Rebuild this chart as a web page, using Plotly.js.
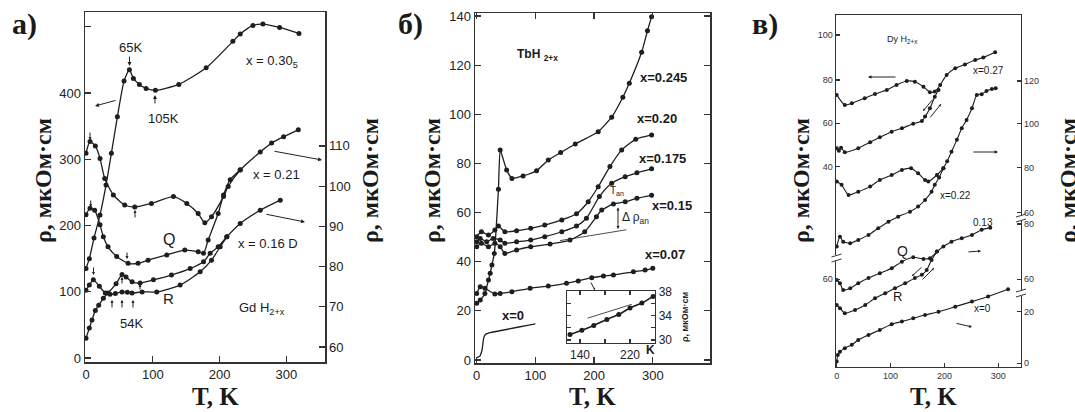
<!DOCTYPE html>
<html><head><meta charset="utf-8">
<script src="https://cdn.plot.ly/plotly-3.0.1.min.js"></script>
<style>html,body{margin:0;padding:0;background:#fff}#chart{width:1075px;height:412px}</style>
</head><body><div id="chart"></div>
<script>
// ---------- Panel a) GdH2+x ----------
const aT_305 = [0,5,12,21,30,38,47,57,65,71,80,90,104,139,180,220,231,250,265,290,319];
const aRho_305 = [135,150,181,216,261,309,364,418,435,422,413,407,404,413,438,478,489,502,504,499,490];
const aT_021 = [0,6,14,21,28,41,58,73,98,131,151,168,178,188,206,213,231,261,278,296,318];
const aRho_021 = [108.2,111.1,110.0,106.9,101.9,97.8,95.3,94.8,95.7,97.4,95.7,93.2,90.9,92.4,97.4,99.9,104.0,108.5,110.7,112.3,114.0];
const aT_Q = [0,6,13,21,26,33,46,63,78,93,121,148,168,176,183,198,206,216,231];
const aRho_Q = [92.9,94.5,94.0,90.4,87.4,84.9,82.5,80.8,80.8,81.6,82.9,84.1,83.7,83.3,86.6,93.2,97.8,101.6,104.1];
const aT_016 = [0,5,9,14,19,26,33,45,54,60,69,81,101,128,156,176,186,198,211,231,261,291];
const aRho_016 = [62.2,64.7,66.7,69.1,70.4,72.1,73.4,75.7,78.0,77.4,76.2,75.9,76.7,77.9,79.5,81.2,83.3,84.9,87.4,90.7,94.0,96.5];
const aT_R = [0,5,11,20,29,36,44,54,62,69,84,106,141,171,188,201,211];
const aRho_R = [74.1,75.4,76.7,75.1,73.4,73.1,73.3,73.7,73.6,73.4,73.7,73.7,75.4,78.7,81.6,84.9,87.4];
const aXticks = [0,100,200,300];
const aLeftTicks = [0,100,200,300,400,500];
const aLeftText = ['0','100','200','300','400',''];
const aRightTicks = [60,70,80,90,100,110];

// ---------- Panel б) TbH2+x ----------
const bT_245 = [0,6,14,20,23,26,30,37,40,51,60,79,102,122,143,168,207,230,249,260,281,291,298];
const bRho_245 = [23.1,24.4,27.1,32.6,35.3,38.7,43.4,69.5,85.5,77.3,73.9,74.9,77,81.4,84.4,87.9,92.9,98.8,106.9,112.6,125.2,134,139.7];
const bT_020 = [0,8,20,31,37,48,68,92,116,145,170,190,207,227,247,271,298];
const bRho_020 = [50.2,52.2,50.9,52.9,54.5,52.2,52.6,53.6,54.9,57,59.5,64.4,70.5,78.7,85.5,89.8,91.6];
const bT_0175 = [0,6,17,28,40,48,68,92,116,145,170,187,209,230,253,273,298];
const bRho_0175 = [48.1,49.5,48.1,49.5,48.8,47.5,48.1,48.8,50.2,52.2,54.5,57.7,66.5,71.9,74.6,76.2,77.8];
const bT_015 = [0,8,20,31,40,48,68,92,125,159,184,204,213,233,253,273,298];
const bRho_015 = [46.1,47.5,46.1,47.5,46.1,43.4,44.8,46.1,47.2,48.8,52.2,58.3,61,63.5,64.4,65.8,67.0];
const bT_007 = [0,6,14,31,40,60,91,122,153,173,196,216,233,267,287,300];
const bRho_007 = [27.1,29.8,29.2,26.9,27.1,27.8,29.2,30.1,31.2,32.2,33.5,34.2,34.6,35.9,36.6,37.3];
const bT_0 = [0,5,9,12,15,20,100];
const bRho_0 = [1,1.5,4,9,10.5,11,14.7];
const bBaseT = [142,255];
const bBaseRho = [48.6,53.0];
const bXticks = [0,100,200,300];
const bYticks = [0,20,40,60,80,100,120,140];
// inset
const insT = [124,143,162,183,202,220,239,257];
const insRho = [30.9,31.6,32.4,33.4,34.2,35.3,36.1,37.2];
const insLineT = [152,223];
const insLineRho = [33.6,35.9];
const insXticks = [140,180,220];
const insXtext = ['140','','220'];
const insYticks = [30,32,34,36,38];
const insYtext = ['30','','34','','38'];

// ---------- Panel в) DyH2+x (broken axes, shared plotting scale) ----------
const cT_27a = [0,15,28,52,71,93,111,130,145,161,173,182,192,204,220,238,257,272,294];
const cY_27a = [72.7,68.1,68.9,71.2,73.1,74.9,77.2,79.0,78.7,76.4,73.9,74.2,77.2,81.8,84.8,86.6,88.6,89.7,92.1];
const cT_27b = [0,4,8,15,40,62,80,102,121,142,158,164,173,182,189];
const cY_27b = [48.4,47.2,48.6,46.6,48.4,51.1,53.4,55.9,57.5,59.5,60.8,62.8,66.6,71.9,74.9];
const cT_22a = [0,9,22,40,62,80,102,121,138,151,164,170,186,198];
const cY_22a = [33.2,31.7,27.1,28.6,30.9,33.9,36.2,38.5,39.3,37.0,33.9,33.2,36.2,39.3];
const cT_22b = [0,6,12,25,40,59,77,96,114,136,151,164,176,182,190,198,205,213,223,232,241,251,260,269,278,288,295];
const cY_22b = [3.6,8.1,5.8,5.1,6.6,8.9,11.9,14.9,17.2,19.5,21.8,24.8,28.6,31.7,35.0,39.3,42.5,46.8,52.2,57.5,61.3,66.6,72.7,73.0,74.5,75.4,75.7];
const cT_13Q = [0,6,12,25,40,59,80,102,121,142,161,173,186,198,213,232,251,269,285];
const cY_13Q = [-11.6,-13.1,-16.2,-15.4,-13.1,-10.8,-8.6,-6.3,-3.3,-1.3,-2.1,-1.7,1.3,3.6,5.8,7.4,8.9,11.2,12.2];
const cT_13R = [0,6,15,34,53,71,90,108,127,145,158,167,176,186];
const cY_13R = [-23.0,-24.5,-26.8,-25.3,-23.0,-20.0,-17.7,-15.4,-13.1,-10.8,-9.3,-7.1,-2.5,1.3];
const cT_0 = [0,2,6,15,28,40,59,80,102,121,142,164,189,220,251,281,318];
const cY_0 = [-48.8,-45.8,-44.3,-42.7,-41.2,-39.0,-36.7,-34.4,-31.8,-30.6,-29.1,-27.6,-26.1,-23.8,-21.5,-19.2,-15.9];
const cXticks = [0,100,200,300];
const cLeftTicks = [100,79.5,59.8,40,-11.3];
const cLeftText = ['100','80','60','40','60'];
const cRightTicks = [79.0,59.5,39.5,19.0,13.9,-11.3,-26.1,-49.6];
const cRightText = ['120','100','80','60','80','60','20','0'];

// ---------- helpers ----------
const W = 1075, H = 412;
const PX = x => x / W, PY = y => 1 - y / H;
const INK = '#1e1e1e';
function curve(x, y, xa, ya, opt) {
  opt = opt || {};
  return {
    x: x, y: y, xaxis: xa, yaxis: ya, type: 'scatter',
    mode: opt.nomark ? 'lines' : 'lines+markers',
    line: {color: INK, width: opt.w || 1.3, shape: opt.shape || 'spline', smoothing: opt.sm == null ? 0.6 : opt.sm},
    marker: {color: INK, size: opt.ms || 5},
    hoverinfo: 'skip', showlegend: false
  };
}
const SANS = 'Liberation Sans, Arial, sans-serif';
const SERIF = 'Liberation Serif, Times New Roman, serif';
function axis(extra) {
  return Object.assign({
    showgrid: false, zeroline: false, showline: true, linecolor: '#333', linewidth: 1.5,
    ticks: 'inside', ticklen: 6, tickcolor: '#333', tickwidth: 1.2,
    tickfont: {family: SANS, size: 13, color: '#222'}, fixedrange: true, tickmode: 'array'
  }, extra);
}
const ann = [];
function T(text, x, y, size, opt) {
  opt = opt || {};
  ann.push(Object.assign({text: text, x: PX(x), y: PY(y), xref: 'paper', yref: 'paper', showarrow: false,
    xanchor: 'center', yanchor: 'middle', font: {family: opt.family || SANS, size: size, color: '#1a1a1a'}}, opt.extra || {}));
}
function ARR(x0, y0, x1, y1, opt) {
  opt = opt || {};
  ann.push({text: '', x: PX(x1), y: PY(y1), xref: 'paper', yref: 'paper', showarrow: true,
    ax: x0 - x1, ay: y0 - y1, arrowhead: 2, arrowsize: opt.size || 0.8, arrowwidth: opt.w || 1,
    arrowcolor: '#222', arrowside: opt.side || 'end', standoff: 0, startstandoff: 0});
}

// ---------- traces ----------
const data = [
  curve(aT_305, aRho_305, 'x', 'y'),
  curve(aT_021, aRho_021, 'x', 'y2'),
  curve(aT_Q, aRho_Q, 'x', 'y2'),
  curve(aT_016, aRho_016, 'x', 'y2'),
  curve(aT_R, aRho_R, 'x', 'y2'),

  curve(bT_245, bRho_245, 'x3', 'y3', {sm: 0.4}),
  curve(bT_020, bRho_020, 'x3', 'y3'),
  curve(bT_0175, bRho_0175, 'x3', 'y3'),
  curve(bT_015, bRho_015, 'x3', 'y3'),
  curve(bT_007, bRho_007, 'x3', 'y3'),
  curve(bT_0, bRho_0, 'x3', 'y3', {nomark: true, sm: 0.3}),
  curve(bBaseT, bBaseRho, 'x3', 'y3', {nomark: true, w: 0.8, shape: 'linear'}),
  curve(insLineT, insLineRho, 'x4', 'y4', {nomark: true, w: 0.8, shape: 'linear'}),
  curve(insT, insRho, 'x4', 'y4', {w: 1.6, ms: 5}),

  curve(cT_27a, cY_27a, 'x5', 'y5', {ms: 4, w: 1.1}),
  curve(cT_27b, cY_27b, 'x5', 'y6', {ms: 4, w: 1.1}),
  curve(cT_22a, cY_22a, 'x5', 'y6', {ms: 4, w: 1.1}),
  curve(cT_22b, cY_22b, 'x5', 'y6', {ms: 4, w: 1.1}),
  curve(cT_13Q, cY_13Q, 'x5', 'y6', {ms: 4, w: 1.1}),
  curve(cT_13R, cY_13R, 'x5', 'y6', {ms: 4, w: 1.1}),
  curve(cT_0, cY_0, 'x5', 'y6', {ms: 4, w: 1.1})
];

// ---------- text ----------
const YT = 'ρ, мкОм·см';
// panel labels
T('<b>а)</b>', 24, 24, 30, {family: SERIF});
T('<b>б)</b>', 410, 24, 30, {family: SERIF});
T('<b>в)</b>', 765, 24, 30, {family: SERIF});
// axis titles
[215, 593, 933].forEach(x => T('<b>T, K</b>', x, 396, 25, {family: SERIF}));
[43, 370, 432, 801, 1068].forEach(x => T('<b>' + YT + '</b>', x, 181, 24, {family: SERIF, extra: {textangle: -90}}));

// panel a labels
T('65K', 130, 47, 13);
ARR(129.5, 55, 129.5, 66);
T('105K', 163, 118, 13);
ARR(155, 105, 155, 95);
T('x = 0.30<sub>5</sub>', 272, 62, 13);
T('x = 0.21', 276, 175, 13);
T('x = 0.16 D', 268, 244, 13);
T('Q', 169, 240, 16);
T('R', 168, 298, 15);
T('54K', 131, 323, 13);
T('Gd H<sub>2+x</sub>', 262, 308, 13);
ARR(117, 100, 95, 106);
ARR(273, 151, 322, 160);
ARR(265, 214, 305, 222);
ARR(90, 131, 90, 140, {size: 0.6});
ARR(90.7, 199, 90.7, 207, {size: 0.6});
ARR(93.5, 266, 93.5, 275, {size: 0.6});
ARR(135, 219, 135, 210, {size: 0.6});
ARR(127, 251, 127, 259, {size: 0.6});
ARR(122, 285, 122, 277, {size: 0.6});
ARR(140, 291, 140, 284, {size: 0.6});
ARR(112, 309, 112, 300, {size: 0.6});
ARR(122, 309, 122, 300, {size: 0.6});
ARR(133, 309, 133, 300, {size: 0.6});

// panel b labels
T('<b>TbH <sub>2+x</sub></b>', 537, 55, 12);
T('<b>x=0.245</b>', 663, 77, 13);
T('<b>x=0.20</b>', 657, 118, 13);
T('<b>x=0.175</b>', 662, 158, 13);
T('<b>x=0.15</b>', 672, 205, 13);
T('<b>x=0.07</b>', 665, 255, 13);
T('<b>x=0</b>', 513, 315, 13);
T('T<sub>an</sub>', 617, 191, 10);
T('Δ ρ<sub>an</sub>', 635, 218, 12);
ARR(618, 206, 618, 229, {side: 'end+start', size: 0.6});
ARR(590, 281, 595, 290, {size: 0.4});
T('<b>K</b>', 650, 350, 12);
T('<b>' + YT + '</b>', 685, 317, 9, {extra: {textangle: -90}});

// panel c labels
T('Dy H<sub>2+x</sub>', 902, 40, 9);
T('x=0.27', 988, 70, 10);
T('x=0.22', 955, 195, 10);
T('0.13', 983, 222, 10);
T('Q', 902, 251, 14);
T('R', 897, 296, 13);
T('x=0', 982, 308, 10);
ARR(897, 77, 868, 77, {size: 0.7});
ARR(972, 152, 998, 152, {size: 0.7});
ARR(967, 252, 981, 251, {size: 0.6});
ARR(955, 323, 972, 327, {size: 0.6});
ARR(934, 98, 923, 111, {size: 0.5});
ARR(929, 119, 941, 104, {size: 0.5});
ARR(923, 266, 912, 276, {size: 0.5});
ARR(921, 281, 934, 268, {size: 0.5});

// break marks on panel c axes
const shapes = [];
function brk(x, y) {
  shapes.push({type: 'rect', xref: 'paper', yref: 'paper', x0: PX(x - 4), x1: PX(x + 4), y0: PY(y + 3), y1: PY(y - 3), fillcolor: '#fff', line: {width: 0}});
  shapes.push({type: 'line', xref: 'paper', yref: 'paper', x0: PX(x - 5), y0: PY(y - 1), x1: PX(x + 5), y1: PY(y - 4), line: {color: '#333', width: 1}});
  shapes.push({type: 'line', xref: 'paper', yref: 'paper', x0: PX(x - 5), y0: PY(y + 4), x1: PX(x + 5), y1: PY(y + 1), line: {color: '#333', width: 1}});
}
brk(836.5, 258); brk(1021, 218); brk(1021, 293);

const layout = {
  width: W, height: H, margin: {l: 0, r: 0, t: 0, b: 0},
  paper_bgcolor: '#fff', plot_bgcolor: 'rgba(0,0,0,0)', showlegend: false,
  font: {family: SANS, color: '#222'},
  xaxis: axis({domain: [PX(85), PX(325)], anchor: 'y', range: [-1.5, 358], tickvals: aXticks, mirror: true}),
  yaxis: axis({domain: [PY(362), PY(12)], anchor: 'x', range: [-6, 522.3], tickvals: aLeftTicks, ticktext: aLeftText}),
  yaxis2: axis({overlaying: 'y', side: 'right', anchor: 'x', range: [56.27, 143.3], tickvals: aRightTicks}),

  xaxis3: axis({domain: [PX(475), PX(710)], anchor: 'y3', range: [-2.9, 397.5], tickvals: bXticks, mirror: 'ticks'}),
  yaxis3: axis({domain: [PY(363), PY(13)], anchor: 'x3', range: [-1.2, 141.2], tickvals: bYticks, mirror: 'ticks'}),
  xaxis4: axis({domain: [PX(567), PX(655)], anchor: 'y4', range: [119.2, 260], tickvals: insXticks, ticktext: insXtext, mirror: 'ticks', ticklen: 4, tickfont: {family: SANS, size: 12, color: '#222'}, linewidth: 1.3}),
  yaxis4: axis({domain: [PY(343), PY(291)], anchor: 'x4', range: [29.5, 38.1], side: 'right', tickvals: insYticks, ticktext: insYtext, mirror: 'ticks', ticklen: 4, tickfont: {family: SANS, size: 12, color: '#222'}, linewidth: 1.3}),

  xaxis5: axis({domain: [PX(835.7), PX(1021)], anchor: 'y5', range: [-1.9, 342], tickvals: cXticks, mirror: true, ticklen: 4, linewidth: 1.2, tickfont: {family: SANS, size: 9, color: '#333'}}),
  yaxis5: axis({domain: [PY(367), PY(15)], anchor: 'x5', range: [-51.3, 109.1], tickvals: cLeftTicks, ticktext: cLeftText, ticklen: 4, linewidth: 1.2, tickfont: {family: SANS, size: 9, color: '#333'}}),
  yaxis6: axis({overlaying: 'y5', side: 'right', anchor: 'x5', range: [-51.3, 109.1], tickvals: cRightTicks, ticktext: cRightText, ticklen: 4, linewidth: 1.2, tickfont: {family: SANS, size: 9, color: '#333'}}),

  annotations: ann, shapes: shapes
};
Plotly.newPlot('chart', data, layout, {staticPlot: true, displayModeBar: false});
</script></body></html>
